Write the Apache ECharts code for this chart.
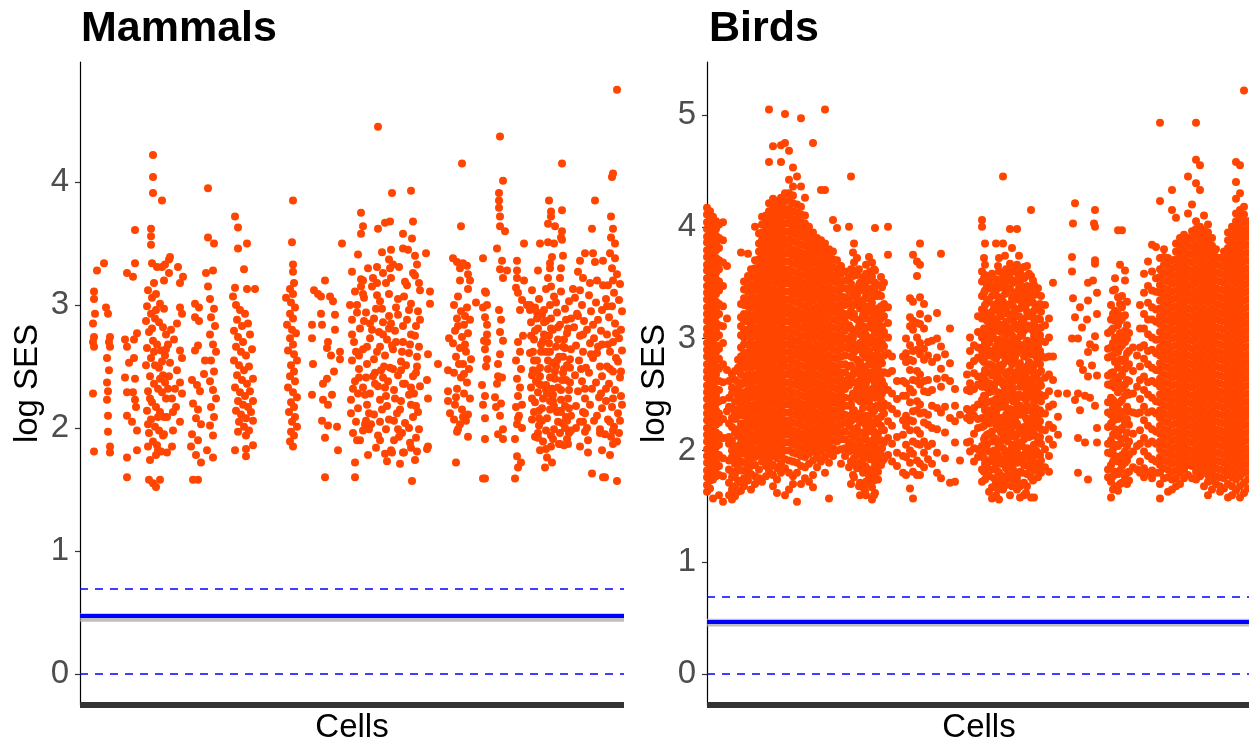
<!DOCTYPE html>
<html><head><meta charset="utf-8">
<script src="https://cdn.jsdelivr.net/npm/echarts@6/dist/echarts.min.js"></script>
<style>html,body{margin:0;padding:0;background:#fff}#c{width:1249px;height:742px}</style>
</head><body><div id="c"></div>
<script>
// Panel titles and axis texts
const panelTitles = ["Mammals", "Birds"];
const yAxisTitle = "log SES";
const xAxisTitle = "Cells";
const mammalTicks = [0, 1, 2, 3, 4];
const birdTicks = [0, 1, 2, 3, 4, 5];
// reference lines (log SES): dashed thresholds, fitted mean and its band
const dashedLines = [0, 0.69];
const mammalMean = 0.47, mammalBand = [0.425, 0.495];
const birdMean = 0.47, birdBand = [0.425, 0.495];

// Mammals: "cell,logSES*100" pairs (cell = position along the Cells axis)
const mammalPts = [
"17,328 14,311 14,305 15,293 13,285 14,274 13,270 14,266 13,228 14,181",
"24,334 26,298 28,293 30,274 29,270 30,266 27,257 29,247 27,237 28,230 27,223 28,210 28,197 30,185 30,180",
"55,361 55,334 47,326 53,323 57,277 54,272 47,266 54,257 45,241 55,240 47,229 53,229 55,223 56,217 47,210 52,205 57,198 57,182 47,176 47,160 49,253 45,272",
"73,422 73,404 73,391 82,385 71,362 71,356 71,349 72,334 77,331 82,331 85,333 89,337 74,318 84,320 89,326",
"68,312 72,306 76,309 80,301 84,297 67,299 71,293 75,289 79,286 83,282 86,276",
"69,278 73,271 77,268 81,263 85,259 67,265 71,257 75,251 79,249 83,243 66,251",
"70,242 74,236 78,232 82,229 86,224 68,230 72,221 76,217 80,213 84,209 67,214",
"71,207 75,201 79,198 83,194 69,196 73,189 77,186 81,181 68,185 76,178 85,237",
"66,287 74,262 82,254 70,224 78,209 86,264 72,281 80,240 68,203 84,195 76,296",
"69,158 73,155 76,152 80,158 70,174 78,182",
"90,339 98,331 103,323 100,318 100,298 102,293 97,285 91,280 94,272 100,263 102,257 97,247 100,237 102,228 93,213 100,205 93,198 92,185 87,180 88,268 90,253 89,242 92,224 95,232 96,217 87,209 88,232",
"128,395 128,355 134,350 126,326 133,328 128,315 115,301 119,298 115,290 119,287 130,305 134,297 131,290 135,283 130,276 133,268 136,262 131,255 134,246 130,238 133,231 136,224 131,217 134,209 130,202 133,194",
"115,263 118,267 112,239 117,235 120,230 113,220 118,215 116,208 121,203 112,195 118,190 111,185 116,178 121,172 113,158 118,158 127,182 133,176 124,244 125,255",
"155,372 158,363 167,350 158,346 164,329 155,314 167,313 175,313",
"153,307 156,300 160,296 165,293 157,288 162,283 168,285 154,279 158,274 163,270 170,276 156,266 161,262 166,259 172,264 154,255 159,251 164,247 169,250 157,243 162,239 167,236 173,240",
"155,233 160,229 165,226 170,230 158,222 163,219 168,217 173,222 156,214 161,211 166,208 171,213 159,205 164,201 169,198 173,206 158,197 166,194 155,182 166,183 166,177 173,186",
"213,385 212,351 213,333 213,327 214,318 210,313 213,309 206,306 211,302 215,298 210,293 213,289 207,284 212,280 216,277 210,273 213,268 208,263 214,260 217,255 211,251 214,246 210,242 215,238 208,233 213,229 217,225 211,221 214,217 209,213 215,209 212,205 217,201 211,197 214,194 210,189 213,185",
"262,350 245,320 234,312 238,309 241,307 250,307 253,303 241,293 255,292 232,284 242,284 232,273 255,280 248,270 247,265 260,262 251,259 260,256 233,252 254,246 247,240 243,236 252,227 232,227 243,223 248,219 242,206 248,202 257,201 245,192 258,182 245,160",
"298,445 312,391 331,393 281,375 283,364 281,358 298,362 305,367 310,368 323,358 332,354 333,368 278,341 302,343 311,345 309,337 313,333 323,346 328,345 335,340 337,333 333,326",
"272,327 281,321 288,330 297,318 303,326 311,322 319,331 327,316 335,324 340,312",
"275,311 284,306 292,315 300,303 309,309 316,298 324,307 331,301 338,295 277,300",
"286,294 294,289 302,297 311,285 318,292 327,288 336,283 272,288 280,281 299,278",
"307,272 315,279 323,270 331,276 339,266 274,270 283,264 290,273 297,262 305,259",
"313,264 321,254 329,261 337,250 272,255 279,248 287,252 295,245 303,241 310,249",
"318,243 325,236 333,242 340,234 275,238 283,233 290,228 298,234 306,226 314,231",
"321,222 329,227 336,218 271,223 278,216 287,219 294,211 302,215 309,207 317,212",
"325,204 333,209 339,199 276,205 283,198 291,203 298,194 306,199 314,190 322,196",
"330,188 280,190 296,184 311,182 324,180 337,181 288,178 273,196 289,212 305,233",
"326,251 300,266 284,287 318,305 293,322 335,275 279,241 309,291 323,283 286,241",
"297,308 313,248 331,233 276,262 292,280 304,250 320,215 285,227 300,205 337,258",
"281,315 306,318 329,296 273,232 312,267 295,236 289,199 334,228 319,193 303,286",
"270,300 277,294 283,309 290,285 296,297 303,276 309,281 316,270 322,262 330,268 336,245 340,288 272,276 279,259",
"287,266 294,256 301,247 308,238 315,224 323,236 331,219 338,213 271,212 278,228 286,206 293,242 300,223 307,218",
"314,206 321,247 329,200 336,192 283,320 297,331 310,330 325,319 339,318 300,190 285,203 318,199",
"275,172 275,160 277,190 305,179 312,180 307,173 320,171 332,157 335,174 323,180 331,184",
"346,342 350,311 350,301 348,260 358,252 347,239 348,224 348,185 347,183",
"382,415 381,364 373,338 377,335 383,334 387,332 380,330 388,325 390,320 380,320 378,307 388,313 396,302 369,273 368,247 368,230 368,222 370,212 377,197 388,193 376,172",
"374,300 381,295 387,298 377,289 384,284 390,288 375,279 382,274 388,277 373,269",
"380,265 386,262 391,256 376,258 383,252 389,248 374,245 381,241 387,237 377,232",
"384,228 390,224 375,219 382,215 388,211 374,207 380,203 386,206 378,199 385,268",
"378,283 384,244 379,252 385,291 376,225 383,209",
"403,338 405,311 403,298 407,284 407,276 404,271 405,264 407,256 402,235 405,226 403,219 405,208 405,191 403,159",
"420,437 423,401 419,391 419,385 419,379 420,372 420,364 425,360 417,346 422,336 420,329 427,328 423,322 419,296 421,288 420,278 423,271 420,260 418,252 418,242 417,236 422,241 415,225 421,220 416,217 420,210 423,199 418,195 423,191 405,159",
"406,310 407,300 405,290 407,270 406,250",
"444,350 437,336 437,328 437,322 436,314 444,320 438,310 442,304 447,300 440,296 450,296 443,275 438,270 440,262 436,255 441,248 437,240 440,233 438,226 442,219 436,217 439,210 437,203 438,208 442,200 435,191 437,177 441,172 438,168 435,159",
"482,415 469,385 471,376 471,372 482,377 468,366 475,364 482,360 481,355 460,350 468,351 474,350 482,353 472,339 470,334 483,340 458,328 481,330 480,322 470,330 468,322 471,315",
"452,312 459,305 466,313 474,307 481,311 489,303 455,298 462,292 470,300 477,294",
"485,297 491,289 451,286 458,281 466,287 473,280 480,284 487,277 454,272 461,268",
"469,275 476,266 484,272 491,264 450,261 457,255 465,262 472,253 479,258 487,251",
"453,247 460,242 468,248 475,240 483,245 490,237 451,233 458,229 466,235 473,227",
"481,231 488,224 455,221 462,216 470,222 477,213 485,218 491,210 452,207 459,202",
"467,208 474,199 482,204 489,196 455,193 463,189 471,194 479,187 487,191 460,182",
"457,289 464,276 471,289 478,282 486,288 453,262 460,249 468,262 476,250 483,258",
"490,249 456,238 463,224 470,241 478,233 486,239 452,224 459,214 467,228 474,218",
"481,223 489,216 454,213 462,206 470,215 478,205 486,209 464,296 483,266 457,246",
"469,269 476,302 488,281 451,275 461,235 472,232 480,196 458,196 466,183 485,200",
"450,300 457,294 464,286 471,281 478,272 485,265 490,256 452,243 459,236 466,231 473,222 480,214 487,206 491,198",
"454,255 461,262 468,255 475,246 482,239 489,231 455,279 463,271 470,262 477,255 484,248 459,208 466,198 473,191 481,213 488,187",
"458,192 467,176 472,172 465,168 471,185 480,187 484,186",
"515,385 512,362 505,342 513,342 500,336 515,335 523,336 498,327 503,322 510,318 517,320 523,316 493,313 500,312",
"495,306 502,300 509,308 516,302 522,296 497,293 504,287 511,295 518,288 494,282",
"500,275 507,280 514,273 521,279 496,267 503,262 510,269 517,261 522,268 499,255",
"506,249 513,257 520,250 495,243 502,238 509,245 516,237 522,242 498,230 505,224",
"512,232 519,225 496,218 503,213 510,219 517,210 522,216 500,205 507,200 514,206",
"520,199 498,291 513,284 501,248 518,266 505,232 496,200 511,260 521,228 503,276",
"505,212 503,205 505,197 508,190 500,185 508,180 512,163 523,160 522,182 520,196 525,195",
"537,475 532,404 533,407 531,372 533,362 531,355 535,350 530,342 535,338 532,330 537,325 533,320",
"528,316 534,310 540,317 526,305 532,299 539,304 542,295 529,290 535,285 541,280",
"527,276 533,270 539,273 530,262 536,257 542,263 527,250 533,246 540,241 529,236",
"535,231 541,226 526,222 532,217 538,212 542,219 528,207 534,201 540,206 531,193",
"537,189 527,299 536,277 530,248 538,254 526,232 533,224 539,196 528,268 541,246",
"530,205 533,198 533,187 530,178 537,157 525,160"
];

// Birds: each entry "cell y1 y2 y3 ..." (logSES*100) — points sharing one cell column
const birdCols = [
"0 417 411 404 398 391 386 379 373 366 361 354 347 341 335 328 322 316 309 303 296 290 284 277 271 265 258 252 246 239 233 227 220 214 208 201 195 189 182 176 169 163",
"3 414 407 401 395 388 382 376 369 363 357 350 344 338 331 325 319 312 306 300 293 287 281 274 268 262 255 249 243 236 230 224 217 211 205 198 192 186 179 173 166",
"6 409 402 396 389 383 377 370 364 357 351 345 338 332 326 319 313 307 300 294 288 281 275 269 262 256 250 243 237 231 224 218 212 205 199 193 186 180 174 157",
"9 405 398 392 385 379 372 366 359 353 346 340 333 327 320 314 307 301 294 288 281 275 268 262 255 249 242 236 229 223 216 210 203 197 190 184 177",
"12 402 390 381 370 362 351 343 331 322 312 303 291 282 273 262 254 244 233 225 214 205 196 186 178 160",
"16 404 388 368 347 329 311 296 277 261 245 228 211 193 177 154",
"20 365 318 272 235 211",
"22 262 247 239 224 212 206 191 183 171 160",
"25 268 256 251 238 229 221 209 200 194 181 176 165 156",
"28 271 263 252 244 233 228 216 204 197 188 179 168 159",
"31 281 274 261 255 246 237 231 219 213 201 192 184 173 163",
"34 377 331 319 311 303 292 284 276 268 259 250 241 235 224 216 207 198 190 182 171 164",
"37 351 344 336 330 322 316 308 301 295 287 280 274 266 260 252 245 238 231 224 218 210 203 197 189 182 175 168",
"41 376 356 349 342 335 329 322 315 308 302 295 288 281 275 268 261 254 248 241 234 227 221 214 207 200 194 187 180 173",
"44 362 355 348 341 334 328 321 314 307 301 294 287 280 274 267 260 253 247 240 233 226 220 213 206 199 193 186 179 165",
"48 400 370 363 356 349 343 336 329 322 316 309 302 295 289 282 275 268 262 255 248 241 235 228 221 214 208 201 194 187 177 170",
"52 394 385 378 371 364 358 351 344 337 331 324 317 310 304 297 290 283 277 270 263 256 250 243 236 229 223 216 209 202 196 183 175",
"55 409 402 395 388 381 375 368 361 354 348 341 334 327 321 314 307 300 294 287 280 273 267 260 253 246 240 233 226 219 213 206 199 190 172",
"59 410 404 397 390 383 377 370 363 356 350 343 336 329 323 316 309 302 296 289 282 275 269 262 255 248 242 235 228 221 215 208 201 194 186 177",
"62 505 458 421 414 407 400 394 387 380 373 367 360 353 346 340 333 326 319 313 306 299 292 286 279 272 265 259 252 245 238 232 225 218 211 205 198 190 182",
"66 472 425 418 411 405 398 391 384 378 371 364 357 351 344 337 330 324 317 310 303 297 290 283 276 270 263 256 249 243 236 229 222 216 209 202 195 187 178 168",
"70 423 416 409 403 396 389 382 376 369 362 355 349 342 335 328 322 315 308 301 295 288 281 274 268 261 254 247 241 234 227 220 214 207 200 193 184 174 162",
"74 473 458 426 419 412 406 399 392 385 379 372 365 358 352 345 338 331 325 318 311 304 298 291 284 277 271 264 257 250 244 237 230 223 217 210 203 196 188 180",
"78 501 475 430 423 416 410 403 396 389 383 376 369 362 356 349 342 335 329 322 315 308 302 295 288 281 275 268 261 254 248 241 234 227 221 214 207 200 192 184 160",
"82 468 442 430 423 416 409 403 396 389 382 376 369 362 355 349 342 335 328 322 315 308 301 295 288 281 274 268 261 254 247 241 234 227 220 214 207 200 191 180 165",
"86 453 436 428 421 414 407 401 394 387 380 374 367 360 353 347 340 333 326 320 313 306 299 293 286 279 272 266 259 252 245 239 232 225 218 212 205 198 190 177 170",
"90 445 420 413 406 399 393 386 379 372 366 359 352 345 339 332 325 318 312 305 298 291 285 278 271 264 258 251 244 237 231 224 217 210 204 197 189 180 154",
"94 497 436 418 411 404 398 391 384 377 371 364 357 350 344 337 330 323 317 310 303 296 290 283 276 269 263 256 249 242 236 229 222 215 209 202 195 186 170",
"98 426 410 403 396 390 383 376 369 363 356 349 342 336 329 322 315 309 302 295 288 282 275 268 261 255 248 241 234 228 221 214 207 201 194 185 175",
"102 400 393 386 379 373 366 359 352 346 339 332 325 319 312 305 298 292 285 278 271 265 258 251 244 238 231 224 217 211 204 197 188 172",
"106 475 395 388 381 374 368 361 354 347 341 334 327 320 314 307 300 293 287 280 273 266 260 253 246 239 233 226 219 212 206 199 191 178 167",
"110 390 383 376 369 363 356 349 342 336 329 322 315 309 302 295 288 282 275 268 261 255 248 241 234 228 221 214 207 201 194 185",
"114 433 388 381 374 367 361 354 347 340 334 327 320 313 307 300 293 286 280 273 266 259 253 246 239 232 226 219 212 205 199 190",
"118 505 433 385 378 371 364 358 351 344 337 331 324 317 310 304 297 290 283 277 270 263 256 250 243 236 229 223 216 209 202 194 180",
"122 380 373 366 359 353 346 339 332 326 319 312 305 299 292 285 278 272 265 258 251 245 238 231 224 218 211 204 197 189 157",
"126 406 378 371 364 357 351 344 337 330 324 317 310 303 297 290 283 276 270 263 256 249 243 236 229 222 216 209 202 195",
"130 399 370 363 356 350 343 336 329 323 316 309 302 296 289 282 275 269 262 255 248 242 235 228 221 215 208 200",
"134 365 358 351 345 338 331 324 318 311 304 297 291 284 277 270 264 257 250 243 237 230 223 216 210 201 188",
"138 360 352 345 337 330 322 315 307 300 292 285 277 270 262 255 247 240 232 225 217 210 202 195",
"142 400 355 343 336 321 312 297 291 275 266 258 240 231 222 207 199 185",
"144 445 362 349 331 325 309 302 284 276 263 247 241 226 214 203 190 170",
"146 377 356 338 319 301 283 268 251 235 219 205 188 178",
"147 385 368 361 344 330 322 306 295 288 270 261 249 236 228 212 200 193 176",
"150 372 357 339 333 317 308 290 281 272 255 246 232 220 211 196 184",
"152 362 348 334 311 293 277 262 249 229 216 203 185 168",
"153 350 343 327 316 304 296 279 268 259 244 233 225 208 197 189 171 160",
"156 355 347 330 321 311 299 286 275 263 254 238 227 216 203 192 180 167",
"158 349 336 323 309 290 272 256 244 226 212 196 186 164",
"159 366 358 341 329 318 303 294 283 268 260 249 231 222 210 199 185 172 160",
"162 373 352 344 336 324 310 298 289 277 264 252 243 228 217 205 194 176 170",
"163 360 339 328 312 296 282 270 249 238 223 208 192 181",
"165 368 355 345 332 317 311 301 285 279 266 255 239 233 219 206 199 183 167 156",
"167 362 344 321 308 297 276 262 252 235 217 210 193 173 160",
"168 399 361 350 338 326 318 305 292 281 270 258 247 237 224 213 202 188 178 162",
"170 338 322 310 298 286 264 251 240 228 208 197 186",
"171 348 340 327 315 307 294 280 273 261 249 239 225 215 201 193 181 174",
"174 355 338 329 318 302 291 283 268 256 245 230 222 209 196 187",
"175 346 326 311 296 278 262 251 237 219 202 190",
"177 350 331 320 306 293 285 270 258 242 233 218 207 192",
"181 400 375 328 314 301 287 269 254 240 226 211 196",
"185 284 271 251 237 222 206 190",
"190 262 246 233 212 198 186",
"196 284 262 249 227 214 195 180",
"199 300 287 279 260 249 231 222 205 194 178",
"203 336 319 311 294 281 272 255 243 227 218 200 189 166",
"206 375 333 316 308 289 280 263 252 235 226 208 197 181 157",
"210 369 356 314 301 290 271 262 244 236 218 206 191 178",
"213 385 366 337 322 313 296 286 268 259 241 233 215 205 188 178",
"217 331 309 291 281 262 253 234 225 208 198 185",
"221 318 297 285 263 252 232 223 204 192",
"225 298 279 254 240 220 206 188",
"230 323 300 283 264 238 219 198 180",
"234 376 293 273 257 234 175",
"238 286 265 239 216 193",
"243 309 278 262 229 171",
"248 255 240 226 207 172",
"253 232 191",
"260 268 254 237 229 207",
"263 301 289 276 260 253 234 227 208 199",
"267 294 280 269 255 238 231 215 202 190",
"271 320 306 292 283 266 259 241 228 220 201 194",
"275 406 400 360 351 338 326 318 301 289 281 264 257 245 229 221 204 196 183 172",
"277 372 354 341 322 309 293 279 268 249 240 222 210 193 181",
"278 385 366 357 343 330 324 306 297 284 272 263 248 236 227 212 201 188 174",
"280 347 335 316 302 290 270 256 243 230 214 205 185 178",
"282 352 345 333 320 311 296 285 277 260 252 236 224 215 199 190 177 163",
"285 358 347 338 324 312 305 289 276 267 253 244 231 217 208 193 183 167 157",
"287 343 329 318 300 283 271 257 239 228 211 200 190 175",
"289 385 353 339 331 316 307 293 282 270 261 246 233 223 210 198 187 171 160",
"291 365 345 327 311 295 285 266 252 238 224 206 196 181 165",
"292 372 360 349 335 324 313 299 287 276 264 251 242 226 219 203 192 180 170 156",
"294 350 337 320 306 292 272 262 247 229 216 208 188 174",
"296 445 385 356 346 333 327 310 298 286 277 259 250 239 225 214 202 190 177 165",
"298 374 340 329 312 300 283 270 255 241 228 217 199 187 171",
"299 362 351 341 326 315 305 292 280 268 256 245 232 220 211 195 184 169",
"301 356 344 322 310 290 282 264 250 236 223 208 193 178",
"303 398 367 354 345 331 322 307 296 285 271 262 249 237 226 213 200 191 176 160",
"305 381 360 336 319 303 289 277 258 251 230 216 203 188 168",
"306 361 350 338 329 316 301 294 279 270 255 244 233 222 205 197 183 172",
"308 352 341 326 312 292 283 266 247 235 228 212 194 180",
"310 398 366 359 342 335 320 309 297 287 270 263 246 239 224 214 201 189 175 165",
"312 374 355 345 320 308 295 274 269 250 238 220 207 196 170",
"313 360 349 337 327 313 302 290 278 266 257 240 232 216 206 193 181 168 158",
"315 343 331 316 303 291 273 261 249 236 217 204 192 180",
"317 364 354 341 329 318 307 292 284 268 258 247 234 221 210 196 187 171 160",
"319 356 340 330 311 296 286 269 255 245 229 215 199 187 162",
"320 365 347 335 324 312 298 289 275 264 252 240 227 219 202 194 179 168",
"322 358 338 320 309 293 279 262 256 236 222 212 197 185",
"324 415 356 345 333 320 309 297 286 272 263 248 237 225 213 199 189 176 158",
"326 352 332 319 307 288 274 259 250 231 218 203 190 173",
"327 348 339 325 314 302 291 277 268 254 243 230 219 205 195 182 158",
"329 340 329 310 298 284 265 252 238 225 213 200 188",
"331 345 328 318 305 293 281 269 256 246 232 223 208 198 184 176",
"333 331 317 303 289 277 262 250 236 226 212 196 185",
"334 338 324 310 298 285 271 258 244 233 219 206 191 180",
"338 330 312 297 283 265 249 233 218 201 185",
"342 318 301 284 268 253 239 223 210 195 181",
"346 350 284 263 241 220 205",
"351 251 230 214",
"360 251",
"365 373 360 300",
"366 403 336",
"368 421 319 245",
"371 300 251 211 180",
"373 328 278 236",
"375 310",
"376 272",
"378 249 207",
"380 317",
"381 350 334 288 266 174",
"383 295 247",
"385 276",
"386 352",
"387 403",
"388 415 400 370 367 302 292 240",
"390 341 322 267 220 207",
"401 305 291 283 267 259 243 234 221 206 198 183 176",
"404 330 317 307 292 284 269 258 247 232 224 209 197 187 172 158",
"406 343 322 309 296 285 270 261 245 238 226 214 201 190 177 165",
"408 354 344 325 316 301 291 279 265 256 241 231 219 205 195 181 168",
"411 397 337 322 312 298 288 274 262 252 237 228 213 204 190 179 164",
"413 366 331 316 305 292 281 266 255 243 230 218 206 194 182 170",
"415 397 338 328 318 303 294 280 268 257 245 233 220 210 196 186 171",
"418 361 352 321 307 297 282 273 259 249 235 225 211 199 189 176",
"420 333 312 300 287 275 263 252 239 228 216 204 191 180 170",
"422 305 289 277 262 250 235 223 208 196 181 173",
"426 292 271 251 234 215 199 185",
"430 285 257 233 204 183",
"433 330 309 292 275 263 246 234 218 206 190 180",
"437 358 341 322 309 294 282 266 254 239 227 211 199 184 176",
"441 369 347 332 317 304 289 277 261 250 234 222 206 195 180",
"445 384 360 343 328 317 301 290 274 262 247 235 219 208 192 182 175",
"449 382 354 342 326 315 299 287 272 260 244 233 217 206 190 180",
"453 493 423 372 362 355 348 341 334 327 320 313 306 299 292 285 278 271 264 257 250 243 236 229 222 215 208 201 194 187 180 170 157",
"457 380 373 366 359 352 345 338 331 324 317 310 303 296 289 282 275 268 261 254 247 240 233 226 219 212 205 198 191 184 175",
"461 372 365 358 351 344 337 330 323 316 309 302 295 288 281 274 267 260 253 246 239 232 225 218 211 204 197 190 183 176 163",
"465 433 415 370 363 356 349 342 335 328 321 314 307 300 293 286 279 272 265 258 251 244 237 230 223 216 209 202 195 188 181 174 165",
"469 408 385 378 371 364 357 350 343 336 329 322 315 308 301 294 287 280 273 266 259 252 245 238 231 224 217 210 203 196 189 182 175 168",
"473 390 383 376 369 362 355 348 341 334 327 320 313 306 299 292 285 278 271 264 257 250 243 236 229 222 215 208 201 194 187 180 170",
"477 393 386 379 372 365 358 351 344 337 330 323 316 309 302 295 288 281 274 267 260 253 246 239 232 225 218 211 204 197 190 183 175",
"481 445 412 390 383 376 369 362 355 348 341 334 327 320 313 306 299 292 285 278 271 264 257 250 243 236 229 222 215 208 201 194 187 178",
"485 420 396 389 382 375 368 361 354 347 340 333 326 319 312 305 298 291 284 277 270 263 256 249 242 235 228 221 214 207 200 193 186 175",
"489 493 460 439 405 398 391 384 377 370 363 356 349 342 335 328 321 314 307 300 293 286 279 272 265 258 251 244 237 230 223 216 209 202 195 188 181 174",
"493 455 433 400 393 386 379 372 365 358 351 344 337 330 323 316 309 302 295 288 281 274 267 260 253 246 239 232 225 218 211 204 197 190 183 177",
"497 410 397 390 383 376 369 362 355 348 341 334 327 320 313 306 299 292 285 278 271 264 257 250 243 236 229 222 215 208 201 194 187 180 168",
"501 402 395 388 381 374 367 360 353 346 339 332 325 318 311 304 297 290 283 276 269 262 255 248 241 234 227 220 213 206 199 192 185 178 172 160",
"505 390 383 376 369 362 355 348 341 334 327 320 313 306 299 292 285 278 271 264 257 250 243 236 229 222 215 208 201 194 187 180 173 165",
"509 380 373 366 359 352 345 338 331 324 317 310 303 296 289 282 275 268 261 254 247 240 233 226 219 212 205 198 191 184 177 170",
"513 372 365 358 351 344 337 330 323 316 309 302 295 288 281 274 267 260 253 246 239 232 225 218 211 204 197 190 183 176 168 163",
"517 378 371 364 357 350 343 336 329 322 315 308 301 294 287 280 273 266 259 252 245 238 231 224 217 210 203 196 189 182 175 166",
"521 395 388 381 374 367 360 353 346 339 332 325 318 311 304 297 290 283 276 269 262 255 248 241 234 227 220 213 206 199 192 185 178 170 158",
"525 400 393 386 379 372 365 358 351 344 337 330 323 316 309 302 295 288 281 274 267 260 253 246 239 232 225 218 211 204 197 190 183 176 168 160",
"529 458 440 425 412 405 398 391 384 377 370 363 356 349 342 335 328 321 314 307 300 293 286 279 272 265 258 251 244 237 230 223 216 209 202 195 188 181 174 164",
"533 455 430 415 408 401 394 387 380 373 366 359 352 345 338 331 324 317 310 303 296 289 282 275 268 261 254 247 240 233 226 219 212 205 198 191 184 177 168 158",
"537 522 418 411 404 397 390 383 376 369 362 355 348 341 334 327 320 313 306 299 292 285 278 271 264 257 250 243 236 229 222 215 208 201 194 187 180 171 162",
"541 405 398 391 384 377 370 363 356 349 342 335 328 321 314 307 300 293 286 279 272 265 258 251 244 237 230 223 216 209 202 195 188 181 174 166"
];

function parsePairs(list) {
  const out = [];
  list.join(' ').trim().split(/\s+/).forEach(p => {
    const [x, y] = p.split(',').map(Number);
    out.push([x, y / 100]);
  });
  return out;
}
function parseCols(list) {
  const out = [];
  list.forEach(s => {
    const v = s.trim().split(/\s+/).map(Number);
    for (let i = 1; i < v.length; i++) out.push([v[0], v[i] / 100]);
  });
  return out;
}
const mammalData = parsePairs(mammalPts);
const birdData = parseCols(birdCols);

const FONT = "Liberation Sans";
const PTS = '#FF4500';
const gridTop = 62, gridH = 643, gridW = 544;

function yAxisFor(idx, min, max, ticks) {
  return {
    type: 'value', gridIndex: idx, min: min, max: max,
    name: yAxisTitle, nameLocation: 'middle', nameRotate: 90, nameGap: 36,
    nameTextStyle: { fontFamily: FONT, fontSize: 33, color: '#000' },
    axisLine: { show: true, lineStyle: { color: '#000', width: 1.2 } },
    axisTick: { show: true, length: 5, lineStyle: { color: '#333', width: 1.2 }, customValues: ticks },
    axisLabel: { show: true, margin: 11, fontFamily: FONT, fontSize: 33, color: '#4d4d4d', customValues: ticks },
    splitLine: { show: false }
  };
}
function xAxisFor(idx) {
  return {
    type: 'value', gridIndex: idx, min: 0, max: gridW,
    name: xAxisTitle, nameLocation: 'middle', nameGap: 6,
    nameTextStyle: { fontFamily: FONT, fontSize: 33, color: '#000', verticalAlign: 'top' },
    axisLine: { show: true, onZero: false, lineStyle: { color: '#333', width: 6, cap: 'butt' } },
    axisTick: { show: false }, axisLabel: { show: false }, splitLine: { show: false }
  };
}
function refMarks(mean, band) {
  return {
    markLine: {
      silent: true, symbol: 'none', label: { show: false },
      data: [
        { yAxis: dashedLines[0], lineStyle: { color: '#0000FF', width: 1.5, type: [8, 7] } },
        { yAxis: dashedLines[1], lineStyle: { color: '#0000FF', width: 1.5, type: [8, 7] } },
        { yAxis: mean, lineStyle: { color: '#0000FF', width: 4, type: 'solid' } }
      ]
    },
    markArea: {
      silent: true, itemStyle: { color: 'rgba(170,170,170,0.75)' },
      data: [[{ yAxis: band[0] }, { yAxis: band[1] }]]
    }
  };
}

const chart = echarts.init(document.getElementById('c'), null, { renderer: 'canvas' });
chart.setOption({
  animation: false,
  backgroundColor: '#fff',
  title: [
    { text: panelTitles[0], left: 76, top: 3, textStyle: { fontFamily: FONT, fontSize: 43, fontWeight: 'bold', color: '#000' } },
    { text: panelTitles[1], left: 704, top: 3, textStyle: { fontFamily: FONT, fontSize: 43, fontWeight: 'bold', color: '#000' } }
  ],
  grid: [
    { left: 80, top: gridTop, width: gridW, height: gridH, containLabel: false, outerBoundsMode: 'none' },
    { left: 707, top: gridTop, width: gridW, height: gridH, containLabel: false, outerBoundsMode: 'none' }
  ],
  xAxis: [xAxisFor(0), xAxisFor(1)],
  yAxis: [yAxisFor(0, -0.252, 4.976, mammalTicks), yAxisFor(1, -0.277, 5.474, birdTicks)],
  series: [
    Object.assign({ type: 'scatter', xAxisIndex: 0, yAxisIndex: 0, data: mammalData, symbolSize: 8,
      itemStyle: { color: PTS, opacity: 1 }, silent: true }, refMarks(mammalMean, mammalBand)),
    Object.assign({ type: 'scatter', xAxisIndex: 1, yAxisIndex: 1, data: birdData, symbolSize: 8,
      itemStyle: { color: PTS, opacity: 1 }, silent: true }, refMarks(birdMean, birdBand))
  ]
});
</script></body></html>
